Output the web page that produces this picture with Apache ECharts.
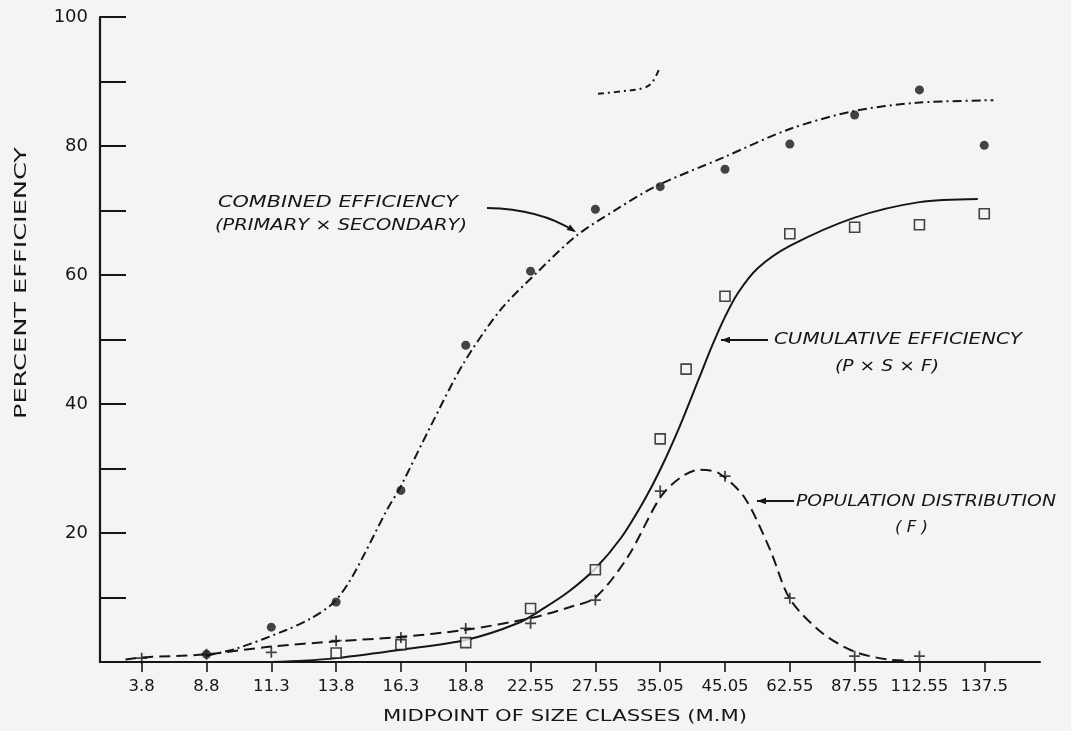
<!DOCTYPE html>
<html>
<head>
<meta charset="utf-8">
<script src="https://cdn.jsdelivr.net/npm/echarts@6/dist/echarts.min.js"></script>
<style>
html,body{margin:0;padding:0;background:#f4f4f2;}
#chart{width:1071px;height:731px;}
</style>
</head>
<body>
<div id="chart"></div>
<script>
// ---------- data ----------
const categories = ['3.8','8.8','11.3','13.8','16.3','18.8','22.55','27.55','35.05','45.05','62.55','87.55','112.55','137.5'];
const yTickLabels = [20, 40, 60, 80, 100];

// Combined efficiency (primary x secondary) - filled dots, by category index
const combinedIdx = [1, 2, 3, 4, 5, 6, 7, 8, 9, 10, 11, 12, 13];
const combinedVal = [1.2, 5.4, 9.3, 26.6, 49.1, 60.6, 70.2, 73.7, 76.4, 80.3, 84.8, 88.7, 80.1];
// fitted curve (category-index position, percent)
const combinedCurveX = [1.0, 1.47, 2.24, 2.6, 2.95, 3.2, 3.45, 3.78, 3.99, 4.45, 4.96, 5.53, 6.1, 6.71, 7.33, 7.92, 8.97, 9.99, 10.98, 11.96, 13.14];
const combinedCurveY = [1.0, 2.1, 5.0, 6.7, 9.1, 12.4, 17.0, 23.5, 27.1, 36.4, 46.2, 54.5, 60.4, 66.1, 70.2, 73.7, 78.2, 82.6, 85.4, 86.7, 87.1];

// Cumulative efficiency (P x S x F) - open squares
const cumulativeIdx = [3, 4, 5, 6, 7, 8, 8.4, 9, 10, 11, 12, 13];
const cumulativeVal = [1.4, 2.7, 3.0, 8.3, 14.3, 34.6, 45.4, 56.7, 66.4, 67.4, 67.8, 69.5];
const cumulativeCurveX = [2.0, 2.5, 3.0, 4.0, 5.0, 5.8, 6.2, 6.6, 7.0, 7.4, 7.75, 8.0, 8.3, 8.6, 8.8, 9.0, 9.2, 9.5, 10.0, 11.0, 12.0, 12.9];
const cumulativeCurveY = [0.0, 0.2, 0.6, 1.9, 3.4, 6.0, 8.3, 11.0, 14.5, 19.3, 25.0, 29.8, 36.5, 44.0, 49.0, 53.5, 57.2, 61.0, 64.5, 68.9, 71.3, 71.8];

// Population distribution (F) - plus marks
const populationIdx = [0, 1, 2, 3, 4, 5, 6, 7, 8, 9, 10, 11, 12];
const populationVal = [0.6, 1.2, 1.5, 3.3, 3.8, 5.2, 6.0, 9.6, 26.5, 28.8, 9.9, 0.9, 0.9];
const populationCurveX = [-0.25, 0, 1, 2, 3, 4, 5, 6, 6.6, 7, 7.5, 8, 8.3, 8.6, 8.9, 9.3, 9.7, 10, 10.5, 11, 11.5, 11.85];
const populationCurveY = [0.4, 0.7, 1.2, 2.4, 3.2, 3.9, 5.0, 6.8, 8.5, 10.0, 16.3, 25.5, 28.5, 29.8, 29.3, 25.5, 17.3, 9.8, 4.5, 1.6, 0.4, 0.2];

// stray curve fragment near the top of the scan
const fragmentX = [7.04, 7.43, 7.74, 7.87, 8.0];
const fragmentY = [88.1, 88.5, 89.0, 89.8, 92.3];

// ---------- helpers ----------
const INK = '#161616';
const BG = '#f4f4f2';
const zip = (xs, ys) => xs.map((x, i) => [x, ys[i]]);
const catIdx = categories.map((_, i) => i);

const mctx = document.createElement('canvas').getContext('2d');
function measure(text, font) { mctx.font = font; return mctx.measureText(text).width; }
function label(text, x, y, width, font, rotation) {
  const s = width / measure(text, font);
  const el = {
    type: 'text', x: x, y: y, scaleX: s, z: 100,
    style: { text: text, font: font, fill: INK, textAlign: rotation ? 'center' : 'left', textVerticalAlign: 'middle' }
  };
  if (rotation) el.rotation = rotation;
  return el;
}
function arrowHead(tipX, tipY, fromX, fromY) {
  const a = Math.atan2(tipY - fromY, tipX - fromX);
  const L = 9, W = 3.2;
  const bx = tipX - L * Math.cos(a), by = tipY - L * Math.sin(a);
  const px = -Math.sin(a) * W, py = Math.cos(a) * W;
  return { type: 'polygon', z: 100, shape: { points: [[tipX, tipY], [bx + px, by + py], [bx - px, by - py]] }, style: { fill: INK } };
}
function straightArrow(x1, y1, x2, y2) {
  return [
    { type: 'line', z: 100, shape: { x1: x1, y1: y1, x2: x2, y2: y2 }, style: { stroke: INK, lineWidth: 1.8 } },
    arrowHead(x2, y2, x1, y1)
  ];
}

const annFont = 'italic 15px "DejaVu Sans"';
const axisFont = '16px "DejaVu Sans"';

const graphics = [
  label('COMBINED EFFICIENCY', 218, 203, 240, annFont),
  label('(PRIMARY \u00d7 SECONDARY)', 215, 226, 252, annFont),
  { type: 'bezierCurve', z: 100, shape: { x1: 487, y1: 208, cpx1: 540, cpy1: 209, x2: 574, y2: 231 }, style: { stroke: INK, lineWidth: 1.8, fill: null } },
  arrowHead(576, 232, 560, 222),
  label('CUMULATIVE EFFICIENCY', 774, 340, 248, annFont),
  label('(P \u00d7 S \u00d7 F)', 835, 367, 104, annFont),
  ...straightArrow(768, 340, 721, 340),
  label('POPULATION DISTRIBUTION', 796, 502, 260, annFont),
  label('( F )', 895, 528, 33, annFont),
  ...straightArrow(794, 501, 757, 501),
  label('MIDPOINT OF SIZE CLASSES (M.M)', 383, 717, 364, axisFont),
  label('PERCENT EFFICIENCY', 22, 283, 272, axisFont, Math.PI / 2)
];

const plusPath = 'path://M4.2,0h1.6v4.2h4.2v1.6h-4.2v4.2h-1.6v-4.2h-4.2v-1.6h4.2z';

const option = {
  backgroundColor: BG,
  animation: false,
  grid: { left: 100, right: 31, top: 17, bottom: 69, containLabel: false },
  xAxis: {
    type: 'value', min: -0.643, max: 13.86,
    axisLine: { show: true, onZero: false, lineStyle: { color: INK, width: 2.2 } },
    axisTick: { show: true, inside: false, length: 10, customValues: catIdx, lineStyle: { color: INK, width: 1.6 } },
    axisLabel: { show: true, customValues: catIdx, formatter: v => categories[Math.round(v)], color: INK, fontSize: 16.5, fontFamily: 'DejaVu Sans', margin: 16 },
    splitLine: { show: false }
  },
  yAxis: {
    type: 'value', min: 0, max: 100, interval: 10,
    axisLine: { show: true, onZero: false, lineStyle: { color: INK, width: 2.2 } },
    axisTick: { show: true, inside: true, length: 26, lineStyle: { color: INK, width: 2 } },
    axisLabel: { show: true, formatter: v => (yTickLabels.indexOf(v) >= 0 ? String(v) : ''), color: INK, fontSize: 18, fontFamily: 'DejaVu Sans', margin: 12 },
    splitLine: { show: false }
  },
  graphic: graphics,
  series: [
    { name: 'Combined curve', type: 'line', data: zip(combinedCurveX, combinedCurveY), smooth: 0.3, showSymbol: false, silent: true,
      lineStyle: { color: INK, width: 2, type: [9, 4, 2, 4] }, z: 2 },
    { name: 'Cumulative curve', type: 'line', data: zip(cumulativeCurveX, cumulativeCurveY), smooth: 0.3, showSymbol: false, silent: true,
      lineStyle: { color: INK, width: 2 }, z: 2 },
    { name: 'Population curve', type: 'line', data: zip(populationCurveX, populationCurveY), smooth: 0.3, showSymbol: false, silent: true,
      lineStyle: { color: INK, width: 2, type: [11, 6] }, z: 2 },
    { name: 'Fragment', type: 'line', data: zip(fragmentX, fragmentY), smooth: 0.4, showSymbol: false, silent: true,
      lineStyle: { color: INK, width: 2, type: [6, 4, 2, 4] }, z: 2 },
    { name: 'Combined efficiency', type: 'scatter', data: zip(combinedIdx, combinedVal), symbol: 'circle', symbolSize: 9,
      itemStyle: { color: INK }, z: 5 },
    { name: 'Cumulative efficiency', type: 'scatter', data: zip(cumulativeIdx, cumulativeVal), symbol: 'rect', symbolSize: 10,
      itemStyle: { color: BG, borderColor: INK, borderWidth: 1.6 }, z: 5 },
    { name: 'Population distribution', type: 'scatter', data: zip(populationIdx, populationVal), symbol: plusPath, symbolSize: 11,
      itemStyle: { color: INK }, z: 5 }
  ]
};

const chart = echarts.init(document.getElementById('chart'), null, { renderer: 'canvas' });
chart.setOption(option);
</script>
</body>
</html>
